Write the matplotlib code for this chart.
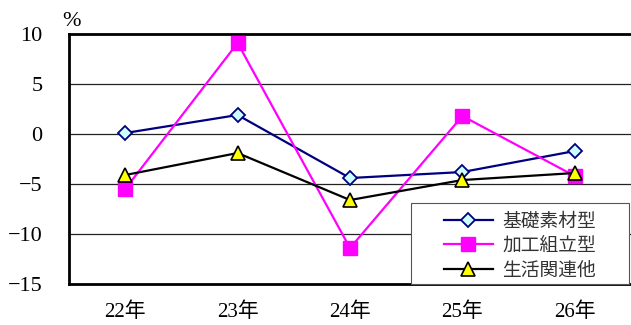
import matplotlib
matplotlib.use("Agg")
import matplotlib.pyplot as plt
from matplotlib.patches import Rectangle

plt.rcParams['font.family'] = ['Liberation Serif', 'Noto Sans CJK JP']
plt.rcParams['axes.unicode_minus'] = True

# data (%)
years = ['22年', '23年', '24年', '25年', '26年']
kiso = [0.1, 1.9, -4.4, -3.8, -1.7]      # 基礎素材型
kakou = [-5.5, 9.1, -11.4, 1.8, -4.2]    # 加工組立型
seikatsu = [-4.1, -1.9, -6.6, -4.6, -3.9]  # 生活関連他
yticks = [10, 5, 0, -5, -10, -15]

fig = plt.figure(figsize=(6.31, 3.25), dpi=100)
ax = fig.add_axes([0.1094, 0.126, 0.8906, 0.7694])

x = range(len(years))
ax.plot(x, kiso, color='#000080', lw=1.6, marker='D', ms=7,
        mfc='#CCFFFF', mec='#000080', mew=1.3, label='基礎素材型', zorder=3)
ax.plot(x, kakou, color='#FF00FF', lw=1.6, marker='s', ms=10,
        mfc='#FF00FF', mec='#FF00FF', label='加工組立型', zorder=3)
ax.plot(x, seikatsu, color='black', lw=1.6, marker='^', ms=10,
        mfc='#FFFF00', mec='black', mew=1.2, label='生活関連他', zorder=4)

ax.set_xlim(-0.5, 4.5)
ax.set_ylim(-15, 10)
ax.set_xticks(list(x))
ax.set_xticklabels(years, fontsize=15)
ax.set_yticks(yticks)
ax.set_yticklabels([str(v).replace('-', '\u2212') for v in yticks], fontsize=16)
ax.tick_params(length=0)
ax.tick_params(axis='x', pad=13)
ax.tick_params(axis='y', pad=19)

for v in [5, 0, -5, -10]:
    ax.axhline(v, color='#222222', lw=0.9, zorder=1)

for s in ['left', 'top', 'bottom']:
    ax.spines[s].set_linewidth(2)
ax.spines['right'].set_visible(False)

ax.text(-0.012, 1.01, '%', transform=ax.transAxes, fontsize=16, ha='left', va='bottom')

# legend box (pixel bounds: x 411-629, y 203-284)
W, H = 631.0, 325.0
box = Rectangle((411 / W, (H - 284) / H), 218 / W, 81 / H, transform=fig.transFigure,
                facecolor='white', edgecolor='#555555', lw=0.8, zorder=5, clip_on=False)
ax.add_artist(box)
leg = ax.legend(loc='center', bbox_to_anchor=(520 / W, (H - 245.5) / H),
                bbox_transform=fig.transFigure, fontsize=13.5, frameon=False,
                handlelength=2.6, labelspacing=0.2, borderpad=0, handletextpad=0.5)
leg.set_zorder(6)
for t in leg.get_texts():
    t.set_family(['Noto Sans CJK JP'])
    t.set_color('#333333')

fig.savefig('out.png', dpi=100)
